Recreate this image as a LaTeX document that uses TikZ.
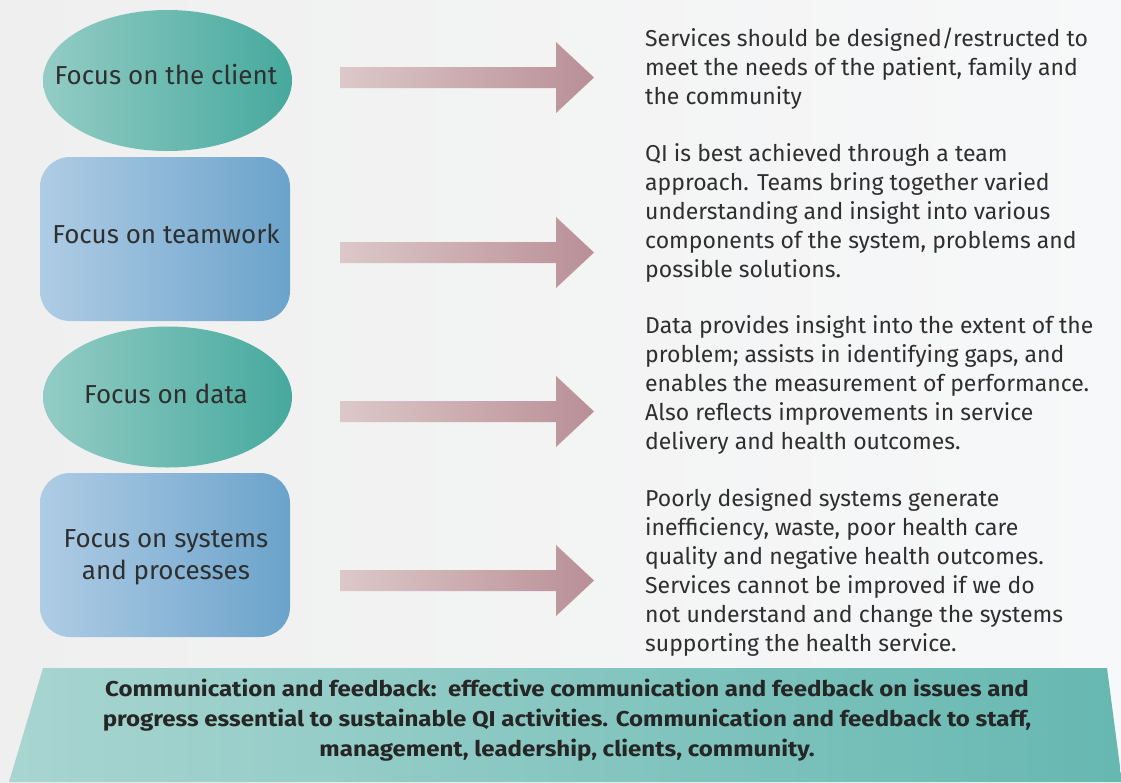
\documentclass[tikz,border=0pt]{standalone}
\usepackage{fontspec}
\setmainfont{Fira Sans}
\newfontfamily\bannerfont[FakeStretch=1.12]{Fira Sans}
\usetikzlibrary{shapes.geometric}
\definecolor{bgL}{HTML}{EFEFEF}
\definecolor{bgR}{HTML}{F7F8F9}
\definecolor{ellL}{HTML}{93CCC5}
\definecolor{ellR}{HTML}{46A99D}
\definecolor{recL}{HTML}{AFCCE5}
\definecolor{recR}{HTML}{6BA3CB}
\definecolor{arrL}{HTML}{DCC8CA}
\definecolor{arrR}{HTML}{B98F96}
\definecolor{banL}{HTML}{A8D5D1}
\definecolor{banR}{HTML}{66B8B1}
\definecolor{txt}{HTML}{2F2F2F}
\tikzset{
  ellnode/.style={ellipse, inner sep=0pt, minimum width=249pt, minimum height=141pt, left color=ellL, right color=ellR, draw=none},
  recnode/.style={rectangle, rounded corners=30pt, inner sep=0pt, minimum width=250pt, minimum height=164pt, left color=recL, right color=recR, draw=none},
  lefttext/.style={text=txt, font=\fontsize{26}{32}\selectfont, align=center, inner sep=0pt},
  righttext/.style={text=txt, font=\fontsize{23}{29}\selectfont, align=left, inner sep=0pt, anchor=north west},
  bannertext/.style={text=black!85, font=\bannerfont\bfseries\fontsize{21.5}{30}\selectfont, align=center, inner sep=0pt},
  arrowfill/.style={left color=arrL, right color=arrR, draw=none},
  blockarrow/.pic={\shade[arrowfill] (0,-10.5) -- (216,-10.5) -- (216,-35.5) -- (254,0) -- (216,35.5) -- (216,10.5) -- (0,10.5) -- cycle;}
}
\begin{document}
\begin{tikzpicture}[x=1pt,y=-1pt]
\useasboundingbox (0,0) rectangle (1121,782);
\shade[left color=bgL, right color=bgR] (0,0) rectangle (1121,782);

% left shapes
\node[ellnode] (client) at (167.5,80.5) {};
\node[lefttext] (clientT) at (166,75) {Focus on the client};
\node[recnode] (team) at (165,239) {};
\node[lefttext] (teamT) at (166,234) {Focus on teamwork};
\node[ellnode] (data) at (167.5,397) {};
\node[lefttext] (dataT) at (166,394) {Focus on data};
\node[recnode] (sys) at (165,555) {};
\node[lefttext] (sysT) at (166,557) {Focus on systems\\and processes};

% arrows
\pic at (340,77.5) {blockarrow};
\pic at (340,252.5) {blockarrow};
\pic at (340,411.5) {blockarrow};
\pic at (340,580.5) {blockarrow};

% right texts
\node[righttext] (t1) at (645,27.5) {Services should be designed/restructed to\\meet the needs of the patient, family and\\the community};
\node[righttext] (t2) at (645,143) {QI is best achieved through a team\\approach. Teams bring together varied\\understanding and insight into various\\components of the system, problems and\\possible solutions.};
\node[righttext] (t3) at (645,315) {Data provides insight into the extent of the\\problem; assists in identifying gaps, and\\enables the measurement of performance.\\Also reflects improvements in service\\delivery and health outcomes.};
\node[righttext] (t4) at (645,488) {Poorly designed systems generate\\inefficiency, waste, poor health care\\quality and negative health outcomes.\\Services cannot be improved if we do\\not understand and change the systems\\supporting the health service.};

% banner
\shade[left color=banL, right color=banR] (43,668) -- (1107,668) -- (1122,782) -- (9,782) -- cycle;
\node[bannertext] (ban) at (567,720) {Communication and feedback:\ \ effective communication and feedback on issues and\\progress essential to sustainable QI activities. Communication and feedback to staff,\\management, leadership, clients, community.};
\end{tikzpicture}
\end{document}
